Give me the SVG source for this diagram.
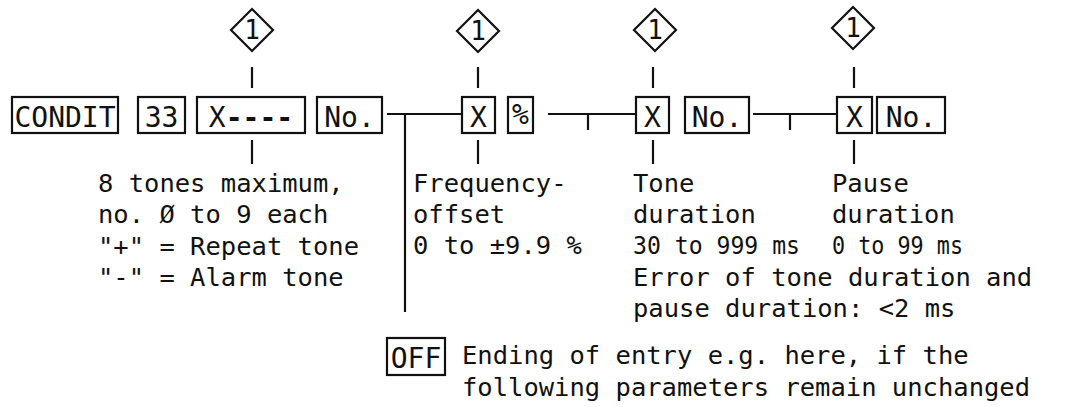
<svg xmlns="http://www.w3.org/2000/svg" width="1073" height="407" viewBox="0 0 1073 407">
<style>
.bg{fill:#fff}
.box{fill:none;stroke:#111;stroke-width:2.2}
.dia{fill:#fff;stroke:#111;stroke-width:2.2}
.ln{stroke:#111;stroke-width:2.2;fill:none}
.k{font-family:"DejaVu Sans Mono","Liberation Mono",monospace;font-size:28px;fill:#111;text-anchor:middle}
.t{font-family:"DejaVu Sans Mono","Liberation Mono",monospace;font-size:25.5px;fill:#111}
.n{font-family:"DejaVu Sans Mono","Liberation Mono",monospace;font-size:26px;fill:#111;text-anchor:middle}
</style>
<rect class="bg" x="0" y="0" width="1073" height="407"/>

<g id="connectors">
  <line class="ln" x1="387" y1="114" x2="462" y2="114"/>
  <line class="ln" x1="548" y1="114" x2="636" y2="114"/>
  <line class="ln" x1="753" y1="114" x2="837" y2="114"/>
  <line class="ln" x1="405" y1="114" x2="405" y2="312"/>
  <line class="ln" x1="588" y1="114" x2="588" y2="130"/>
  <line class="ln" x1="790" y1="114" x2="790" y2="130"/>
  <line class="ln" x1="252" y1="67" x2="252" y2="88"/>
  <line class="ln" x1="478" y1="67" x2="478" y2="88"/>
  <line class="ln" x1="653" y1="67" x2="653" y2="88"/>
  <line class="ln" x1="854" y1="67" x2="854" y2="88"/>
  <line class="ln" x1="252" y1="140" x2="252" y2="164"/>
  <line class="ln" x1="478" y1="140" x2="478" y2="164"/>
  <line class="ln" x1="653" y1="140" x2="653" y2="164"/>
  <line class="ln" x1="854" y1="140" x2="854" y2="164"/>
</g>

<g id="diamond1"><polygon class="dia" points="252,9 273,30 252,51 231,30"/><text class="n" x="252" y="39">1</text></g>
<g id="diamond2"><polygon class="dia" points="478,10 499,31 478,52 457,31"/><text class="n" x="478" y="40">1</text></g>
<g id="diamond3"><polygon class="dia" points="655,9 676,30 655,51 634,30"/><text class="n" x="655" y="39">1</text></g>
<g id="diamond4"><polygon class="dia" points="853,7 874,28 853,49 832,28"/><text class="n" x="853" y="37">1</text></g>

<g id="key-condit"><rect class="box" x="12" y="97" width="106" height="36"/><text class="k" x="65" y="127">CONDIT</text></g>
<g id="key-33"><rect class="box" x="138" y="97" width="47" height="36"/><text class="k" x="161.5" y="127">33</text></g>
<g id="key-x-tones"><rect class="box" x="197" y="97" width="108" height="36"/><text class="k" x="251" y="127">X<tspan font-weight="bold">----</tspan></text></g>
<g id="key-no1"><rect class="box" x="317" y="97" width="65" height="36"/><text class="k" x="349.5" y="127">No.</text></g>
<g id="key-x-freq"><rect class="box" x="462" y="97" width="33" height="36"/><text class="k" x="478.5" y="127">X</text></g>
<g id="key-pct"><rect class="box" x="508" y="97" width="25" height="36"/><text class="k" x="520.5" y="124" font-size="21" font-style="italic">%</text></g>
<g id="key-x-tone"><rect class="box" x="636" y="97" width="33" height="36"/><text class="k" x="652.5" y="127">X</text></g>
<g id="key-no2"><rect class="box" x="685" y="97" width="64" height="36"/><text class="k" x="717" y="127">No.</text></g>
<g id="key-x-pause"><rect class="box" x="837" y="97" width="35" height="36"/><text class="k" x="854.5" y="127">X</text></g>
<g id="key-no3"><rect class="box" x="877" y="97" width="68" height="36"/><text class="k" x="911" y="127">No.</text></g>

<g id="desc-tones">
  <text class="t" x="98" y="192">8 tones maximum,</text>
  <text class="t" x="98" y="223">no. Ø to 9 each</text>
  <text class="t" x="98" y="255">"+" = Repeat tone</text>
  <text class="t" x="98" y="286">"-" = Alarm tone</text>
</g>
<g id="desc-freq">
  <text class="t" x="413" y="192">Frequency-</text>
  <text class="t" x="413" y="223">offset</text>
  <text class="t" x="413" y="254">0 to ±9.9 %</text>
</g>
<g id="desc-tone">
  <text class="t" x="633" y="192">Tone</text>
  <text class="t" x="633" y="223">duration</text>
  <text class="t" x="633" y="254" textLength="167" lengthAdjust="spacingAndGlyphs">30 to 999 ms</text>
  <text class="t" x="633" y="286">Error of tone duration and</text>
  <text class="t" x="633" y="317">pause duration: &lt;2 ms</text>
</g>
<g id="desc-pause">
  <text class="t" x="832" y="192">Pause</text>
  <text class="t" x="832" y="223">duration</text>
  <text class="t" x="832" y="254" textLength="131" lengthAdjust="spacingAndGlyphs">0 to 99 ms</text>
</g>
<g id="key-off">
  <rect class="box" x="387" y="338" width="58" height="37"/><text class="k" x="416" y="368">OFF</text>
  <text class="t" x="462" y="364">Ending of entry e.g. here, if the</text>
  <text class="t" x="462" y="396">following parameters remain unchanged</text>
</g>
</svg>
